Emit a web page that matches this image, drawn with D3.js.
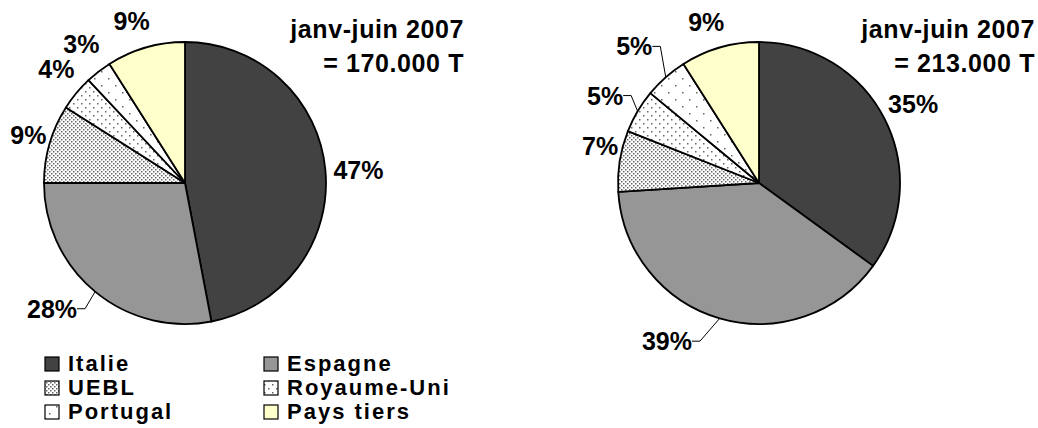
<!DOCTYPE html>
<html><head><meta charset="utf-8">
<script src="https://cdn.jsdelivr.net/npm/d3@7/dist/d3.min.js"></script>
<style>
html,body{margin:0;padding:0;background:#fff;}
svg{display:block;font-family:"Liberation Sans",Arial,sans-serif;font-weight:bold;}
</style></head>
<body><svg id="c" width="1038" height="428"></svg>
<script>
// ---- data ----
const categories = ["Italie","Espagne","UEBL","Royaume-Uni","Portugal","Pays tiers"];
const valuesLeft = [47,28,9,4,3,9];
const valuesRight = [35,39,7,5,5,9];
const periodLabel = "janv-juin 2007";
const totalLeft = "= 170.000 T";
const totalRight = "= 213.000 T";

// ---- layout / style (not data) ----
const W = 1038, H = 428, R = 141;
const fills = ["#424242","#969696","url(#pUEBL)","url(#pRU)","url(#pPT)","#FFFFCC"];
const labelRadLeft  = [174,183,164,172,173,171];
const labelAdjLeft  = [1,7,1,2,1,-2];
const leaderLeft    = [0,1,0,0,0,0];
const labelRadRight = [173,183,163,177,185,169];
const labelAdjRight = [0,14,4,-1,-1,-2];
const leaderRight   = [0,1,0,1,1,0];

const svg = d3.select("#c");
const defs = svg.append("defs");
function dotPattern(id, size, r, color){
  const p = defs.append("pattern").attr("id", id).attr("patternUnits","userSpaceOnUse")
    .attr("width", size).attr("height", size);
  p.append("rect").attr("width", size).attr("height", size).attr("fill","#fff");
  p.append("rect").attr("x",0).attr("y",0).attr("width",r).attr("height",r).attr("fill",color);
  p.append("rect").attr("x",size/2).attr("y",size/2).attr("width",r).attr("height",r).attr("fill",color);
}
dotPattern("pUEBL", 4, 1.5, "#666");
dotPattern("pRU", 8, 1.5, "#666");
dotPattern("pPT", 14, 1.5, "#666");

const pie = d3.pie().sort(null).value(d => d);
const arc = d3.arc().innerRadius(0).outerRadius(R);
const deg = Math.PI/180;

function drawPie(cx, cy, values, radArr, adjArr, leadArr, total, titleX){
  const g = svg.append("g").attr("transform", `translate(${cx},${cy})`);
  const arcs = pie(values);
  g.selectAll("path.slice").data(arcs).enter().append("path")
    .attr("class","slice")
    .attr("d", arc)
    .attr("fill", (d,i) => fills[i])
    .attr("stroke","#000").attr("stroke-width",1.8).attr("stroke-linejoin","round");

  arcs.forEach((d,i) => {
    const mid = (d.startAngle + d.endAngle)/2;
    const a = mid + adjArr[i]*deg;
    const lx = radArr[i]*Math.sin(a), ly = -radArr[i]*Math.cos(a);
    const t = g.append("text")
      .attr("x", lx).attr("y", ly).attr("dy","0.36em")
      .attr("text-anchor","middle")
      .attr("font-size", 25)
      .attr("fill","#000")
      .text(d3.format(".0f")(d.data) + "%");
    if (leadArr[i]) {
      const bb = t.node().getBBox();
      const right = bb.x + bb.width;
      const ex = R*Math.sin(mid), ey = -R*Math.cos(mid);
      g.append("polyline")
        .attr("points", [[ex,ey],[right+8, ly],[right, ly]].map(p=>p.join(",")).join(" "))
        .attr("fill","none").attr("stroke","#000").attr("stroke-width",1);
    }
  });

  svg.append("text").attr("x", titleX).attr("y", 38).attr("text-anchor","end")
    .attr("font-size",25).attr("letter-spacing",0.6).text(periodLabel);
  svg.append("text").attr("x", titleX).attr("y", 72).attr("text-anchor","end")
    .attr("font-size",25).attr("letter-spacing",0.6).text(total);
}

drawPie(185, 183, valuesLeft, labelRadLeft, labelAdjLeft, leaderLeft, totalLeft, 464);
drawPie(759, 183, valuesRight, labelRadRight, labelAdjRight, leaderRight, totalRight, 1035);

// ---- legend ----
const leg = svg.append("g");
const colX = [45, 264], rowY = [371, 395, 419];
categories.forEach((c,i) => {
  const x = colX[i%2], y = rowY[Math.floor(i/2)];
  leg.append("rect").attr("x", x).attr("y", y-14).attr("width",14).attr("height",14)
    .attr("fill", fills[i]).attr("stroke","#000").attr("stroke-width",1.2);
  leg.append("text").attr("x", x+23).attr("y", y)
    .attr("font-size",22).attr("letter-spacing",2).text(c);
});
</script></body></html>
